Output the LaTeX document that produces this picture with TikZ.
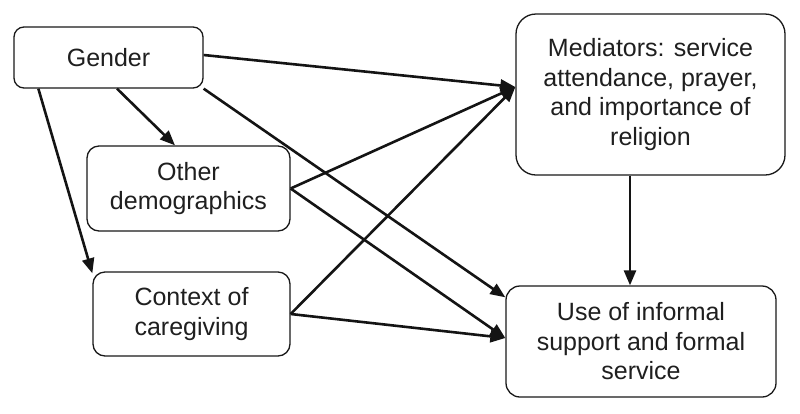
\documentclass[tikz,border=0pt]{standalone}
\usepackage{fontspec}
\setmainfont{Liberation Sans}
\usetikzlibrary{arrows.meta,calc}
\begin{document}
\begin{tikzpicture}[x=1pt,y=-1pt,
  box/.style={draw=black!90,line width=1.3pt,align=center,inner sep=0pt,
    font=\fontsize{25}{29.5}\selectfont,text=black!88},
  arr/.style={line width=2.6pt,draw=black!92,-{Triangle[length=15pt,width=12pt]},shorten >=0pt}]
\useasboundingbox (0,0) rectangle (800,413);
\node[box,rounded corners=10pt,minimum width=189pt,minimum height=61pt] (gen) at (108.5,57.5) {Gender};
\node[box,rounded corners=12pt,minimum width=203pt,minimum height=85pt] (oth) at (188.5,188.5) {Other\\demographics};
\node[box,rounded corners=12pt,minimum width=197pt,minimum height=84pt] (ctx) at (191.5,314) {Context of\\caregiving};
\node[box,rounded corners=20pt,minimum width=269pt,minimum height=161pt] (med) at (650.5,94.5) {Mediators: service\\attendance, prayer,\\and importance of\\religion};
\node[box,rounded corners=14pt,minimum width=270pt,minimum height=111pt] (use) at (641,341.5) {Use of informal\\support and formal\\service};
\coordinate (medin) at ($(med.west)+(0,-7.5)$);
\coordinate (useup) at ($(use.north west)+(0,12)$);
\coordinate (uselo) at ($(use.west)+(0,-3.5)$);
\draw[arr] ($(gen.east)+(0,-2.5)$) -- (medin);
\draw[arr] (gen.south east) -- (useup);
\draw[arr] ($(gen.south)+(8.5,0)$) -- ($(oth.north)+(-13.5,0)$);
\draw[arr] ($(gen.south west)+(25,0)$) -- ($(ctx.north west)+(0,2)$);
\draw[arr] (oth.east) -- (medin);
\draw[arr] (oth.east) -- (uselo);
\draw[arr] (ctx.east) -- (medin);
\draw[arr] (ctx.east) -- (uselo);
\coordinate (mb) at ($(med.south)+(-20.5,0)$);
\draw[arr] (mb) -- (mb |- use.north);
\end{tikzpicture}
\end{document}
